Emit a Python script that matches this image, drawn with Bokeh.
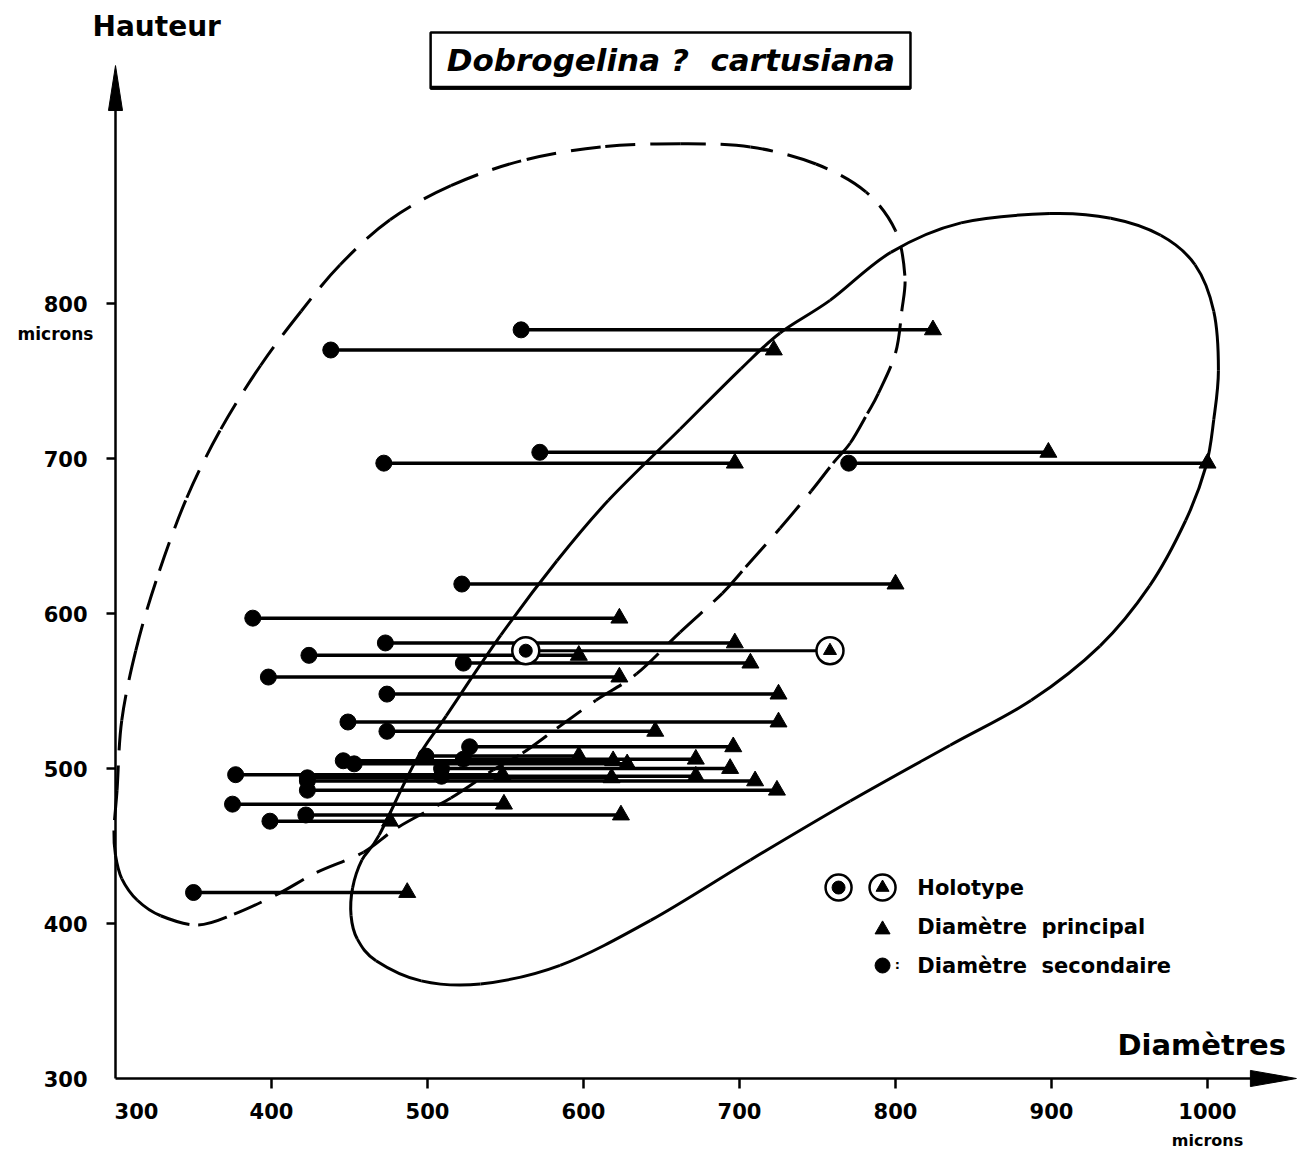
from bokeh.plotting import figure
from bokeh.embed import file_html
from bokeh.resources import INLINE
from bokeh.core.properties import value

# ---------------- data (microns) ----------------
hauteur = [783, 770, 704, 697, 697, 619, 597, 581, 573, 568, 559, 548, 530, 524,
           514, 508, 506, 505, 503, 500, 496, 494, 495, 492, 486, 477, 470, 466, 420]
diam_secondaire = [560, 438, 572, 472, 770, 522, 388, 473, 424, 523, 398, 474, 449, 474,
                   527, 499, 523, 446, 453, 509, 377, 423, 509, 423, 423, 375, 422, 399, 350]
diam_principal = [824, 722, 898, 697, 1000, 800, 623, 697, 597, 707, 623, 725, 725, 646,
                  696, 597, 672, 619, 628, 694, 548, 618, 672, 710, 724, 549, 624, 476, 487]

holotype_hauteur = [576]
holotype_secondaire = [563]
holotype_principal = [758]

# envelope (dashed) outline
dashed_x = [662, 611, 560, 515, 476, 444, 419, 393, 367, 345, 326, 313, 304, 301, 299, 300,
            304, 314, 329, 353, 376, 404, 429, 459, 481, 515, 542, 561, 583, 608, 634, 662,
            689, 704, 726, 746, 760, 771, 782, 789, 800, 804, 806, 800, 781, 749, 707, 662]
dashed_y = [903, 901, 892, 876, 854, 825, 795, 760, 718, 673, 621, 576, 531, 486, 460, 444,
            429, 415, 405, 399, 406, 419, 433, 446, 462, 481, 499, 510, 526, 544, 561, 588,
            613, 630, 655, 679, 697, 710, 729, 742, 768, 795, 818, 847, 872, 890, 901, 903]

# envelope (solid) outline
solid_x = [758, 797, 842, 899, 938, 970, 992, 1004, 1007, 1004, 999, 986, 963, 931, 887, 835,
           771, 707, 643, 585, 534, 496, 467, 455, 451, 452, 458, 469, 492, 512, 547, 583, 616,
           662, 701, 726, 758]
solid_y = [802, 833, 852, 858, 855, 844, 825, 795, 757, 725, 695, 660, 618, 579, 544, 515,
           479, 441, 402, 373, 361, 363, 376, 390, 405, 423, 441, 457, 504, 534, 586, 634, 673,
           719, 758, 781, 802]

x_ticks = [400, 500, 600, 700, 800, 900, 1000]
x_tick_labels = ["400", "500", "600", "700", "800", "900", "1000"]
y_ticks = [400, 500, 600, 700, 800]
y_label_values = [300, 400, 500, 600, 700, 800]
y_tick_labels = ["300", "400", "500", "600", "700", "800"]

FONT = "DejaVu Sans"
X0, Y0 = 300, 300          # origin of the axes
PX_X, PX_Y = 1.56, 1.55    # pixels per micron

p = figure(width=1300, height=1150,
           x_range=(X0 - 115 / PX_X, X0 + 1185 / PX_X),
           y_range=(Y0 - 72 / PX_Y, Y0 + 1078 / PX_Y),
           output_backend="svg", toolbar_location=None,
           x_axis_location=None, y_axis_location=None,
           min_border=0)
p.grid.visible = False
p.outline_line_color = None
p.title.visible = False


def t(x, y, txt, size, align="left", style="bold", baseline="middle"):
    p.text(x=x, y=y, text=txt, text_font=value(FONT), text_font_style=style,
           text_font_size=size, text_align=align, text_baseline=baseline, text_color="black")


def closed_curve(xs, ys, **kw):
    """Draw a smooth closed outline through the read points with Bokeh's bezier glyph."""
    pts = list(zip(xs[:-1], ys[:-1]))
    n = len(pts)
    x0, y0, x1, y1, cx0, cy0, cx1, cy1 = ([] for _ in range(8))
    for i in range(n):
        pa, pb, pc, pd = pts[i - 1], pts[i], pts[(i + 1) % n], pts[(i + 2) % n]
        x0.append(pb[0]); y0.append(pb[1]); x1.append(pc[0]); y1.append(pc[1])
        cx0.append(pb[0] + (pc[0] - pa[0]) / 6); cy0.append(pb[1] + (pc[1] - pa[1]) / 6)
        cx1.append(pc[0] - (pd[0] - pb[0]) / 6); cy1.append(pc[1] - (pd[1] - pb[1]) / 6)
    p.bezier(x0=x0, y0=y0, x1=x1, y1=y1, cx0=cx0, cy0=cy0, cx1=cx1, cy1=cy1, **kw)


# axes with arrow heads, ticks and tick labels
p.line([X0, X0], [Y0, 926], line_color="black", line_width=2.5)
p.line([X0, 1030], [Y0, Y0], line_color="black", line_width=2.5)
p.patch([X0 - 4.5, X0, X0 + 4.5], [924.5, 953.5, 924.5], color="black")
p.patch([1027.5, 1057, 1027.5], [Y0 + 5.2, Y0, Y0 - 5.2], color="black")
p.segment(x0=x_ticks, y0=[Y0] * len(x_ticks), x1=x_ticks, y1=[Y0 - 10 / PX_Y] * len(x_ticks),
          line_color="black", line_width=2.5)
p.segment(x0=[X0] * len(y_ticks), y0=y_ticks, x1=[X0 - 9 / PX_X] * len(y_ticks), y1=y_ticks,
          line_color="black", line_width=2.5)
t(x_ticks, [Y0 - 32 / PX_Y] * len(x_ticks), x_tick_labels, "21px", "center")
t([X0 + 21 / PX_X], [Y0 - 32 / PX_Y], ["300"], "21px", "center")
t([X0 - 28 / PX_X] * len(y_label_values), y_label_values, y_tick_labels, "21px", "right")
t([X0 - 60 / PX_X], [800 - 30 / PX_Y], ["microns"], "17px", "center")
t([1000], [Y0 - 62 / PX_Y], ["microns"], "16px", "center")
t([X0 - 23 / PX_X], [979], ["Hauteur"], "28px")
t([942.3], [321.3], ["Diamètres"], "29px")

# envelopes
closed_curve(dashed_x, dashed_y, line_color="black", line_width=3, line_dash="30 15")
closed_curve(solid_x, solid_y, line_color="black", line_width=3)

# specimens
p.segment(x0=diam_secondaire, y0=hauteur, x1=diam_principal, y1=hauteur,
          line_color="black", line_width=3.5)
p.scatter(diam_secondaire, hauteur, marker="circle", size=16, color="black")
p.scatter(diam_principal, hauteur, marker="triangle", size=17, color="black")

# holotype
p.segment(x0=holotype_secondaire, y0=holotype_hauteur, x1=holotype_principal, y1=holotype_hauteur,
          line_color="black", line_width=3)
for xs in (holotype_secondaire, holotype_principal):
    p.scatter(xs, holotype_hauteur, marker="circle", size=27, fill_color="white",
              line_color="black", line_width=2.5)
p.scatter(holotype_secondaire, holotype_hauteur, marker="circle", size=13, color="black")
p.scatter(holotype_principal, holotype_hauteur, marker="triangle", size=13, color="black")

# legend (drawn)
p.scatter([763.5, 791.7], [423.2, 423.2], marker="circle", size=26, fill_color="white",
          line_color="black", line_width=2.5)
p.scatter([763.5], [423.2], marker="circle", size=13, color="black")
p.scatter([791.7], [423.2], marker="triangle", size=13, color="black")
p.scatter([791.7], [396.1], marker="triangle", size=15, color="black")
p.scatter([791.7], [372.9], marker="circle", size=15, color="black")
t([799.5], [373.5], [":"], "13px")
t([814, 814, 814], [423.2, 397.5, 372.9],
  ["Holotype", "Diamètre\u00a0 principal", "Diamètre\u00a0 secondaire"], "21px")

# title box
p.quad(left=[502], right=[809.6], top=[974.8], bottom=[938.7], fill_color="white",
       line_color="black", line_width=2.5)
p.line([502, 809.6], [939.2, 939.2], line_color="black", line_width=4)
t([656], [957], ["Dobrogelina ?\u00a0 cartusiana"], "31px", "center", "bold italic")

open("out.html", "w").write(file_html(p, INLINE))
